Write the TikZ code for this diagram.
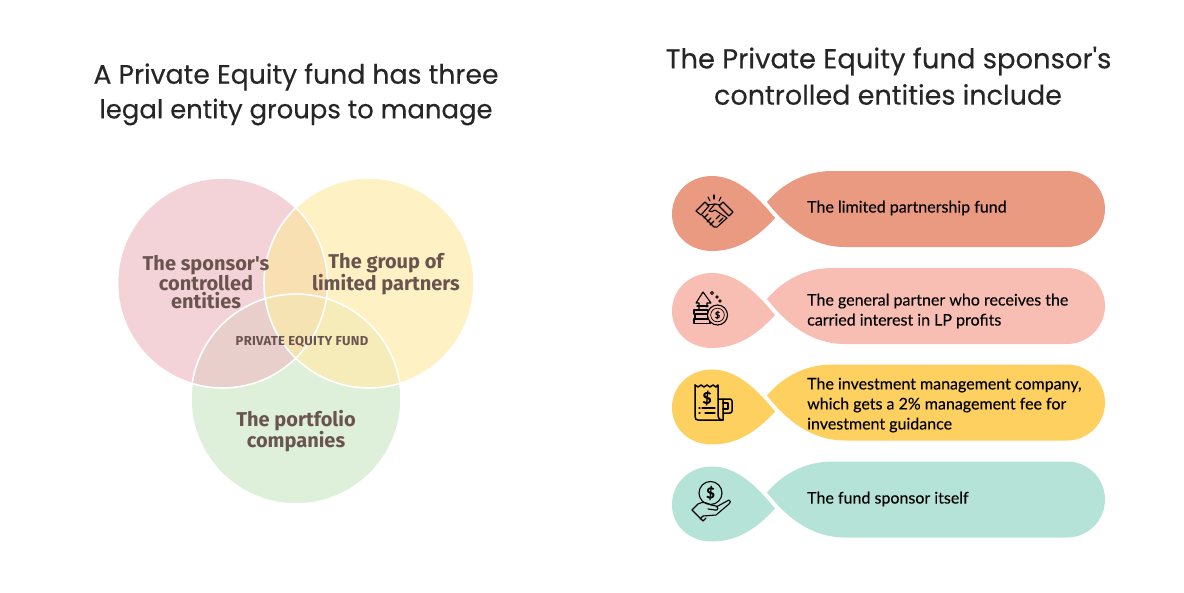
\documentclass[tikz,border=0pt]{standalone}
\usepackage{fontspec}
\newfontfamily\headfont[FakeBold=0.25]{Poppins}
\newfontfamily\vennfont{Fira Sans}
\newfontfamily\rowfont[FakeBold=0.2]{Lato}
\definecolor{pinkc}{HTML}{F3D3D7}
\definecolor{yellowc}{HTML}{FEF1C3}
\definecolor{greenc}{HTML}{DEEFDA}
\definecolor{pinkyellow}{HTML}{F8E0B2}
\definecolor{pinkgreen}{HTML}{E8CFCB}
\definecolor{yellowgreen}{HTML}{F5ECB9}
\definecolor{allthree}{HTML}{F6E3B4}
\definecolor{venntext}{HTML}{6A5450}
\definecolor{rowa}{HTML}{E99A80}
\definecolor{rowb}{HTML}{F9BEB3}
\definecolor{rowc}{HTML}{FDD05F}
\definecolor{rowd}{HTML}{B6E3D7}
\tikzset{
  heading/.style={font=\headfont\fontsize{#1}{30}\selectfont, text=black!85, inner sep=0pt},
  venn/.style={font=\vennfont\bfseries\fontsize{20}{18}\selectfont, text=venntext, align=center, inner sep=0pt},
  rowtext/.style={font=\rowfont\fontsize{16}{20}\selectfont, text=black, align=left, anchor=west, inner sep=0pt},
  icon/.style={line width=1.1pt, black, line cap=round, line join=round},
  dollar/.style={font=\rowfont\bfseries\fontsize{#1}{#1}\selectfont, text=black, inner sep=0pt},
  pics/entityrow/.style={code={
    \fill[#1] (775,218) .. controls (757,196) and (737,176) .. (712,176) .. controls (689,176) and (672,193) .. (672,214) .. controls (672,235) and (689,251) .. (712,251) .. controls (737,251) and (757,238) .. (775,218) -- cycle;
    \fill[#1] (767,202) .. controls (782,184) and (805,171) .. (832,171) -- (1067,171) .. controls (1088,171) and (1105,188) .. (1105,209) .. controls (1105,230) and (1088,247) .. (1067,247) -- (845,247) .. controls (810,247) and (785,225) .. (767,202) -- cycle;
  }}
}
\begin{document}
\begin{tikzpicture}[x=1pt, y=-1pt]
\useasboundingbox (0,0) rectangle (1184,592);

% venn
\coordinate (cpink) at (222.5,283);
\coordinate (cyellow) at (369,283);
\coordinate (cgreen) at (296,399);
\fill[pinkc] (cpink) circle (105pt);
\fill[yellowc] (cyellow) circle (105pt);
\fill[greenc] (cgreen) circle (105pt);
\begin{scope}
  \clip (cpink) circle (105pt);
  \fill[pinkyellow] (cyellow) circle (105pt);
  \fill[pinkgreen] (cgreen) circle (105pt);
  \clip (cyellow) circle (105pt);
  \fill[allthree] (cgreen) circle (105pt);
\end{scope}
\begin{scope}
  \clip (cyellow) circle (105pt);
  \clip (cgreen) circle (105pt);
  \fill[yellowgreen] (cgreen) circle (105pt);
  \clip (cpink) circle (105pt);
  \fill[allthree] (cgreen) circle (105pt);
\end{scope}
\draw[white, line width=1.6pt] (cpink) circle (105pt);
\draw[white, line width=1.6pt] (cyellow) circle (105pt);
\draw[white, line width=1.6pt] (cgreen) circle (105pt);

\node[heading=26.7] (lefthead) at (296,77) {A Private Equity fund has three};
\node[heading=25.9] (lefthead2) at (296,112) {legal entity groups to manage};
\node[heading=27.4] (righthead) at (888.5,61) {The Private Equity fund sponsor{\char"0027}s};
\node[heading=27] (righthead2) at (888,94.5) {controlled entities include};

\node[venn] (sponsor) at (206,282) {The sponsor{\char"0027}s\\controlled\\entities};
\node[venn] (limited) at (386,274) {The group of\\limited partners};
\node[venn] (portfolio) at (296,431) {The portfolio\\companies};
\node[font=\vennfont\bfseries\fontsize{13}{13}\selectfont\addfontfeature{LetterSpace=2}, text=venntext, inner sep=0pt] (fund) at (302,342) {PRIVATE EQUITY FUND};

% rows
\pic at (0,0) {entityrow=rowa};
\pic at (0,97) {entityrow=rowb};
\pic at (0,193.5) {entityrow=rowc};
\pic at (0,290.5) {entityrow=rowd};

\node[rowtext] (rowone) at (807,208) {The limited partnership fund};
\node[rowtext] (rowtwo) at (807,311) {The general partner who receives the\\carried interest in LP profits};
\node[rowtext] (rowthree) at (807,405) {The investment management company,\\which gets a 2\% management fee for\\investment guidance};
\node[rowtext] (rowfour) at (807,499) {The fund sponsor itself};

% handshake
\draw[icon] (696,211) -- (705,202) -- (709,206) -- (701,215) -- cycle;
\draw[icon] (723,202) -- (733,212) -- (729,216) -- (719,206) -- cycle;
\draw[icon] (707,205) -- (715,204) -- (720,205);
\draw[icon] (715,204) -- (709,211) .. controls (711,213) and (713,211) .. (715,210) -- (727,218) -- (717,227) -- (714,227) -- (702,215);
\draw[icon] (708,214) -- (704,218);
\draw[icon] (711,218) -- (707,222);
\draw[icon] (714,221) -- (710,225);
\draw[icon] (720,215) -- (716,219);
\draw[icon] (723,218) -- (719,222);
\draw[icon] (714,195) -- (714,199);
\draw[icon] (708,197) -- (710,201);
\draw[icon] (721,197) -- (719,201);

% coins
\draw[icon] (699,310) -- (699,303) -- (696,303) -- (703,292) -- (711,303) -- (707,303) -- (707,307);
\draw[icon] (697,306) -- (708,306);
\draw[icon] (694,310) -- (708,310) -- (708,314) -- (694,314) -- cycle;
\draw[icon] (695,314) -- (708,314) -- (708,319) -- (695,319) -- cycle;
\draw[icon] (694,319) -- (710,319) -- (710,323.5) -- (694,323.5) -- cycle;
\draw[icon, fill=rowb] (717.5,315) circle (10pt);
\draw[icon, line width=.7pt] (717.5,315) circle (6.8pt);
\node[dollar=9] (dollartwo) at (717.5,315) {\$};
\draw[icon, line width=.8pt] (712,293) circle (1.5pt);
\draw[icon, line width=.8pt] (717,297) circle (1.3pt);
\draw[icon, line width=.8pt] (720,301) circle (1.3pt);

% receipt
\draw[icon, line width=1.5pt] (695,385) -- (695,416) .. controls (695,419) and (696,420) .. (698,420) -- (723,420) -- (723,399);
\draw[icon, line width=1.5pt] (695,385) -- (698,387) -- (701,385) -- (704,387) -- (707,385) -- (710,387) -- (713,385) -- (716,387) -- (718,385) -- (718,416) .. controls (718,419) and (720,420) .. (723,420);
\draw[icon, line width=1.5pt] (718,399) -- (730,399) .. controls (731,399) and (732,400) .. (732,401) -- (732,411) .. controls (732,412) and (731,413) .. (730,413) -- (723,413);
\draw[icon, line width=1.5pt] (723,403) -- (728,403) -- (728,409) -- (723,409);
\node[dollar=16] (dollarthree) at (707,398) {\$};
\draw[icon] (702,408) -- (715,408);
\draw[icon] (705,413) -- (715,413);
\draw[icon] (699,408) -- (700,408);
\draw[icon] (699,413) -- (700,413);

% hand
\draw[icon] (710.5,493) circle (11.5pt);
\node[dollar=15] (dollarfour) at (710.5,493) {\$};
\draw[icon] (692,510) -- (698,504) .. controls (703,501) and (707,503) .. (711,505) -- (716,506) .. controls (719,507) and (718,511) .. (715,510) -- (708,509);
\draw[icon] (716,507) -- (729,500) .. controls (731,500) and (731,503) .. (729,504) -- (716,515) -- (703,516) -- (700,519);
\draw[icon] (692,510) -- (703,521) -- (706,518);
\end{tikzpicture}
\end{document}
